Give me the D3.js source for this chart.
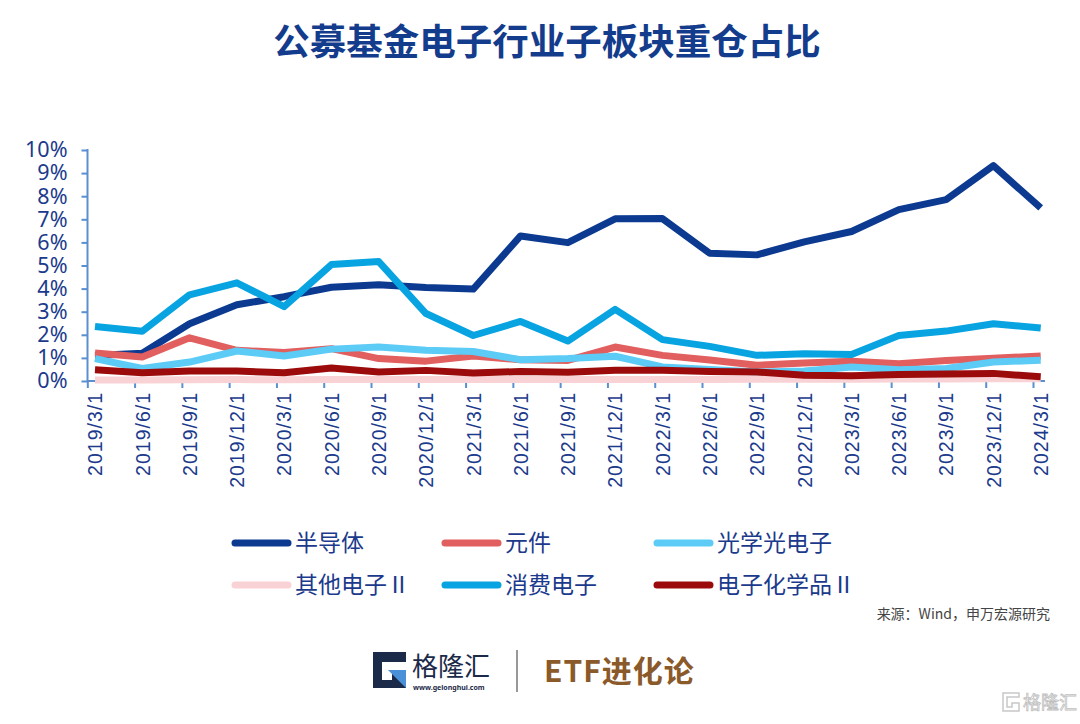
<!DOCTYPE html>
<html><head><meta charset="utf-8">
<script src="https://cdn.jsdelivr.net/npm/d3@7"></script>
<style>
html,body{margin:0;padding:0;background:#fff;}
svg{display:block;font-family:"Noto Sans","Noto Sans CJK SC",sans-serif;}
</style></head>
<body><svg id="c" width="1080" height="724"></svg>
<script>
const dates = ["2019/3/1","2019/6/1","2019/9/1","2019/12/1","2020/3/1","2020/6/1","2020/9/1","2020/12/1","2021/3/1","2021/6/1","2021/9/1","2021/12/1","2022/3/1","2022/6/1","2022/9/1","2022/12/1","2023/3/1","2023/6/1","2023/9/1","2023/12/1","2024/3/1"];
const semi    = [1.1,1.2,2.48,3.3,3.65,4.06,4.17,4.05,3.98,6.28,5.99,7.02,7.03,5.53,5.46,6.02,6.47,7.42,7.85,9.32,7.49];
const comp    = [1.21,1.04,1.87,1.33,1.23,1.4,0.97,0.86,1.08,0.92,0.89,1.47,1.11,0.91,0.68,0.78,0.86,0.75,0.89,0.99,1.08];
const optic   = [0.97,0.54,0.82,1.3,1.08,1.38,1.47,1.33,1.28,0.92,0.97,1.07,0.61,0.5,0.39,0.43,0.61,0.49,0.54,0.82,0.9];
const other   = [0.04,0.04,0.05,0.06,0.05,0.07,0.07,0.06,0.06,0.06,0.07,0.07,0.07,0.07,0.08,0.08,0.08,0.09,0.09,0.1,0.1];
const consumer= [2.36,2.15,3.73,4.25,3.22,5.04,5.17,2.92,1.97,2.58,1.73,3.1,1.79,1.5,1.11,1.18,1.15,1.97,2.16,2.48,2.29];
const chem    = [0.49,0.36,0.43,0.43,0.36,0.56,0.39,0.46,0.35,0.41,0.38,0.47,0.47,0.41,0.39,0.25,0.23,0.28,0.3,0.33,0.18];
const yTicks  = [0,1,2,3,4,5,6,7,8,9,10];
const seriesNames = ["半导体","元件","光学光电子","其他电子Ⅱ","消费电子","电子化学品Ⅱ"];
const seriesData = [semi, comp, optic, other, consumer, chem];
const colors = ["#0b3a90","#e15f5f","#5ccbf6","#f9d2d5","#08a4e1","#9b0b0b"];

const svg = d3.select("#c");
const txt = "#1b3a8c";
svg.append("rect").attr("width",1080).attr("height",724).attr("fill","#fff");

// title
svg.append("text").attr("x",547).attr("y",55).attr("text-anchor","middle")
  .attr("font-size",36.5).attr("font-weight","bold").attr("fill","#143c8c")
  .attr("font-family","'Noto Sans CJK SC',sans-serif").text("公募基金电子行业子板块重仓占比");

const x = d3.scalePoint().domain(dates).range([95,1040.7]);
const y = d3.scaleLinear().domain([0,10]).range([381,150]);
const axisCol = "#5a8fd0";

// y axis
const ya = svg.append("g").attr("transform","translate(87.5,0)")
  .call(d3.axisLeft(y).tickValues(yTicks).tickFormat(d=>d+"%").tickSize(6).tickPadding(14));
ya.select(".domain").attr("stroke",axisCol).attr("stroke-width",2).attr("d","M0,149V381");
ya.selectAll(".tick line").attr("stroke",axisCol).attr("stroke-width",2);
ya.selectAll(".tick text").attr("fill",txt).attr("font-size",21.5).attr("font-family","'Noto Sans',sans-serif");

// x axis
const xa = svg.append("g").attr("transform","translate(0,381)")
  .call(d3.axisBottom(x).tickSize(7).tickPadding(0));
xa.select(".domain").attr("stroke",axisCol).attr("stroke-width",2).attr("d","M87.5,0H1045");
xa.selectAll(".tick line").attr("stroke",axisCol).attr("stroke-width",2).attr("x1",-7.7).attr("x2",-7.7).attr("y1",0).attr("y2",7);
xa.selectAll(".tick text").attr("fill",txt).attr("font-size",19.5).attr("letter-spacing",1)
  .attr("text-anchor","end").attr("dy","0.35em")
  .attr("transform","translate(0,11) rotate(-90)").attr("x",0).attr("y",0);

// lines
const line = d3.line().x((d,i)=>x(dates[i])).y(d=>y(d));
seriesData.forEach((s,k)=>{
  svg.append("path").datum(s).attr("d",line).attr("fill","none")
    .attr("stroke",colors[k]).attr("stroke-width",7).attr("stroke-linejoin","round").attr("stroke-linecap","butt");
});

// legend
const legX = [232,442,654], legY = [543,585];
seriesNames.forEach((n,k)=>{
  const lx = legX[k%3], ly = legY[Math.floor(k/3)];
  svg.append("line").attr("x1",lx+3).attr("x2",lx+56).attr("y1",ly).attr("y2",ly)
    .attr("stroke",colors[k]).attr("stroke-width",7).attr("stroke-linecap","round");
  svg.append("text").attr("x",lx+63).attr("y",ly).attr("dy","0.35em")
    .attr("font-size",23).attr("fill",txt).attr("font-family","'Noto Sans CJK SC',sans-serif").text(n);
});

// source
svg.append("text").attr("x",1050).attr("y",614).attr("dy","0.35em").attr("text-anchor","end")
  .attr("font-size",14).attr("fill","#444").attr("font-family","'Noto Sans CJK SC',sans-serif").text("来源：Wind，申万宏源研究");

// footer logo
const lg = svg.append("g").attr("transform","translate(370,652)");
lg.append("path").attr("d","M3,0H36V10H12V28H22V22H36V36H3Z").attr("fill","#1b2a48");
lg.append("path").attr("d","M18,18H36V36Z").attr("fill","#4a90d9");
lg.append("text").attr("x",42).attr("y",24).attr("font-size",26).attr("fill","#1b2a48")
  .attr("font-family","'Noto Sans CJK SC',sans-serif").text("格隆汇");
lg.append("text").attr("x",43).attr("y",38).attr("font-size",7).attr("font-weight","bold").attr("fill","#1b2a48").text("www.gelonghui.com");
svg.append("line").attr("x1",517).attr("x2",517).attr("y1",650).attr("y2",692).attr("stroke","#333").attr("stroke-width",1);
svg.append("text").attr("x",544).attr("y",682).attr("font-size",30).attr("font-weight","bold")
  .attr("fill","#8b5a2b").attr("font-family","'Noto Sans CJK SC',sans-serif").attr("letter-spacing",1).text("ETF进化论");

// watermark
const wm = svg.append("g").attr("transform","translate(1002,692)");
wm.append("path").attr("d","M1,1H17V5H5V15H10V11H17V19H1Z").attr("fill","none").attr("stroke","#c8c8c8").attr("stroke-width",1.5);
wm.append("text").attr("x",21).attr("y",17).attr("font-size",18).attr("fill","#fff").attr("stroke","#c0c0c0").attr("stroke-width",0.8)
  .attr("font-family","'Noto Sans CJK SC',sans-serif").text("格隆汇");
</script></body></html>
